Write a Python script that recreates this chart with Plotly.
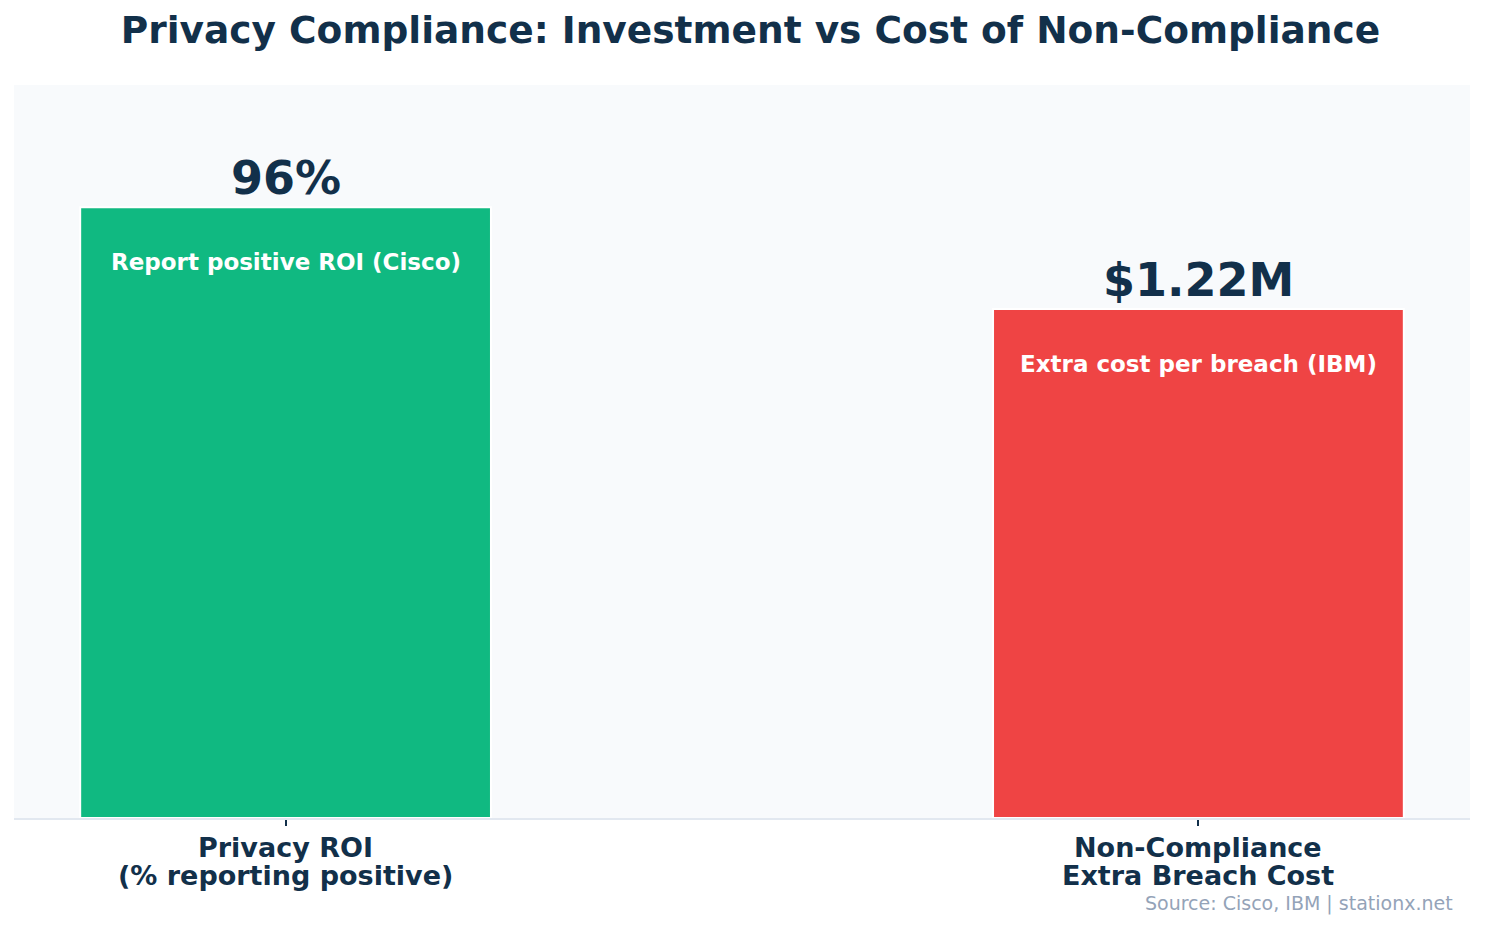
import plotly.graph_objects as go

# 数据
categories = [['Privacy ROI', '(% reporting positive)'], ['Non-Compliance', 'Extra Breach Cost']]
values = [96, 80]
value_labels = ['96%', '$1.22M']
inner_labels = ['Report positive ROI (Cisco)', 'Extra cost per breach (IBM)']
colors = ['#10b981', '#ef4444']

navy = '#12304a'
font_family = 'DejaVu Sans'

fig = go.Figure()
fig.add_trace(go.Bar(x=[0, 1], y=values, width=0.45,
                     marker=dict(color=colors, line=dict(color='white', width=2)),
                     hoverinfo='skip'))

# 数值标签（柱顶之上）和柱内说明文字
for i, v in enumerate(values):
    fig.add_annotation(x=i, y=v, text='<b>' + value_labels[i] + '</b>', showarrow=False,
                       yanchor='bottom', yshift=0,
                       font=dict(family=font_family, size=46, color=navy))
    fig.add_annotation(x=i, y=v, text='<b>' + inner_labels[i] + '</b>', showarrow=False,
                       yanchor='middle', yshift=-55,
                       font=dict(family=font_family, size=23, color='white'))

# 类别标签（两行，行距比 plotly 默认更紧）
for i, lines in enumerate(categories):
    for j, line in enumerate(lines):
        fig.add_annotation(x=i, xref='x', yref='paper', y=[-0.0396, -0.0791][j],
                           text='<b>' + line + '</b>', showarrow=False, yanchor='middle',
                           font=dict(family=font_family, size=27, color=navy))

fig.add_annotation(xref='paper', yref='paper', x=0.9897, y=-0.116, text='Source: Cisco, IBM | stationx.net',
                   showarrow=False, xanchor='right', yanchor='middle',
                   font=dict(family=font_family, size=19, color='#94a3b8'))

fig.update_layout(
    width=1485, height=928,
    title=dict(text='<b>Privacy Compliance: Investment vs Cost of Non-Compliance</b>',
               x=0.5, xanchor='center', y=0.976, yanchor='middle',
               font=dict(family=font_family, size=37.5, color=navy)),
    margin=dict(l=6, r=23, t=77, b=118),
    paper_bgcolor='white', plot_bgcolor='#f8fafc',
    showlegend=False,
    font=dict(family=font_family, color=navy),
    xaxis=dict(range=[-0.2975, 1.2975], tickvals=[0, 1], ticktext=['', ''],
               ticks='outside', ticklen=6, tickcolor=navy, tickwidth=1.5,
               showline=True, linecolor='#e2e8f0', linewidth=2,
               showgrid=False, zeroline=False),
    yaxis=dict(range=[0, 115.2], visible=False, showgrid=False, zeroline=False),
)

fig.write_html('out.html')
